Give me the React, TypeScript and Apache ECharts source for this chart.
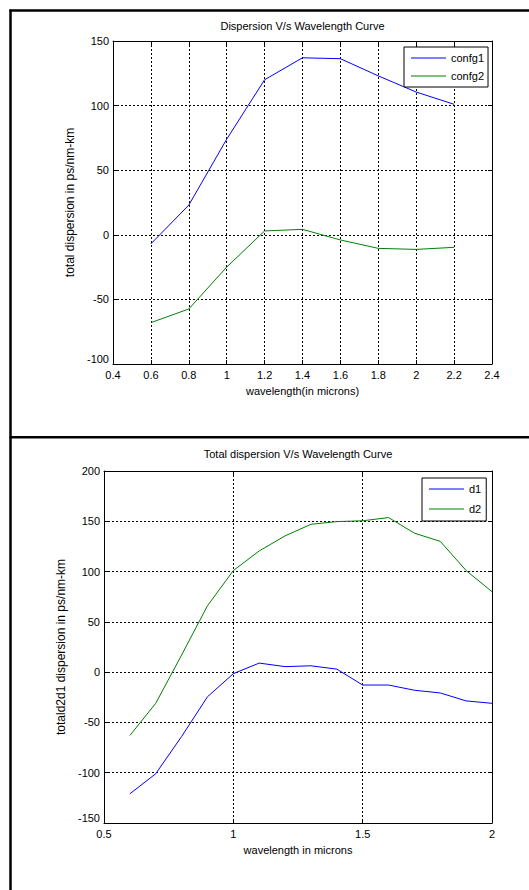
import React, { useEffect, useRef } from "react";
import * as echarts from "echarts";

// ---- Data ----
const TOP_WAVELENGTH = [0.6, 0.8, 1.0, 1.2, 1.4, 1.6, 1.8, 2.0, 2.2];
const CONFG1 = [-7, 23, 74, 120, 137, 136.3, 123, 110.5, 101];
const CONFG2 = [-68, -57.4, -25, 3, 4.2, -4, -10.5, -11.3, -9.7];

const BOTTOM_WAVELENGTH = [0.6, 0.7, 0.8, 0.9, 1.0, 1.1, 1.2, 1.3, 1.4, 1.5, 1.6, 1.7, 1.8, 1.9, 2.0];
const D1 = [-121, -101, -64, -24.5, -1.5, 9, 5.5, 6.3, 3, -12.8, -12.8, -18, -20.7, -28.6, -31];
const D2 = [-63, -31, 17, 66, 101, 120.5, 135.5, 147, 149.7, 150.5, 153.7, 138.2, 130, 101, 80];

const TOP_TITLE = "Dispersion V/s Wavelength Curve";
const TOP_XNAME = "wavelength(in microns)";
const TOP_YNAME = "total dispersion in ps/nm-km";
const BOTTOM_TITLE = "Total dispersion V/s Wavelength Curve";
const BOTTOM_XNAME = "wavelength in microns";
const BOTTOM_YNAME = "totald2d1 dispersion in ps/nm-km";

const FONT = "Liberation Sans, Arial, sans-serif";
const BLUE = "#0000ff";
const GREEN = "#008000";

const pairs = (xs: number[], ys: number[]) => xs.map((x, i) => [x, ys[i]]);

function axes(
  gridIndex: number,
  xmin: number, xmax: number, xint: number,
  ymin: number, ymax: number, yint: number,
  xname: string, yname: string, xGap: number, yGap: number
) {
  const line = { show: true, onZero: false, lineStyle: { color: "#000", width: 1 } };
  const tick = { show: true, inside: true, length: 4, lineStyle: { color: "#000", width: 1 } };
  const grid = { show: true, lineStyle: { color: "#000", width: 1, type: [2, 2] } };
  const x = [
    {
      type: "value", gridIndex, min: xmin, max: xmax, interval: xint, position: "bottom",
      axisLine: line, axisTick: tick, splitLine: grid,
      axisLabel: { color: "#000", fontSize: 11, fontFamily: FONT, margin: 5, showMinLabel: true, showMaxLabel: true },
      name: xname, nameLocation: "middle", nameGap: xGap,
      nameTextStyle: { color: "#000", fontSize: 11, fontFamily: FONT },
    },
    {
      type: "value", gridIndex, min: xmin, max: xmax, interval: xint, position: "top",
      axisLine: line, axisTick: tick, splitLine: { show: false }, axisLabel: { show: false },
    },
  ];
  const y = [
    {
      type: "value", gridIndex, min: ymin, max: ymax, interval: yint, position: "left",
      axisLine: line, axisTick: tick, splitLine: grid,
      axisLabel: {
        color: "#000", fontSize: 11, fontFamily: FONT, margin: 4, showMinLabel: true, showMaxLabel: true,
        formatter: (v: number) => (v === ymin ? `{lo|${v}}` : `${v}`),
        rich: { lo: { fontSize: 11, fontFamily: FONT, color: "#000", padding: [0, 0, 10, 0] } },
      },
      name: yname, nameLocation: "middle", nameGap: yGap,
      nameTextStyle: { color: "#000", fontSize: 12, fontFamily: FONT },
    },
    {
      type: "value", gridIndex, min: ymin, max: ymax, interval: yint, position: "right",
      axisLine: line, axisTick: tick, splitLine: { show: false }, axisLabel: { show: false },
    },
  ];
  return { x, y };
}

export default function App() {
  const ref = useRef<HTMLDivElement>(null);
  useEffect(() => {
    if (!ref.current) return;
    const chart = echarts.init(ref.current, undefined, { renderer: "svg" });
    const a1 = axes(0, 0.4, 2.4, 0.2, -100, 150, 50, TOP_XNAME, TOP_YNAME, 21, 31);
    const a2 = axes(1, 0.5, 2, 0.5, -150, 200, 50, BOTTOM_XNAME, BOTTOM_YNAME, 21, 32);
    const legendBase = {
      orient: "vertical",
      icon: "rect",
      itemWidth: 35,
      itemHeight: 1,
      borderColor: "#000",
      borderWidth: 1,
      backgroundColor: "#fff",
      textStyle: { color: "#000", fontSize: 11, fontFamily: FONT, lineHeight: 12 },
    };
    chart.setOption({
      animation: false,
      backgroundColor: "#fff",
      grid: [
        { left: 113, top: 41, width: 379, height: 323 },
        { left: 104, top: 471, width: 388, height: 352 },
      ],
      xAxis: [...a1.x, ...a2.x],
      yAxis: [...a1.y, ...a2.y],
      legend: [
        { ...legendBase, data: ["confg1", "confg2"], left: 404, top: 47, padding: [5, 4, 5, 7], itemGap: 6 },
        { ...legendBase, data: ["d1", "d2"], left: 422, top: 478, padding: [5, 5, 6, 7], itemGap: 8 },
      ],
      series: [
        { name: "confg1", type: "line", xAxisIndex: 0, yAxisIndex: 0, data: pairs(TOP_WAVELENGTH, CONFG1), symbol: "none", color: BLUE, lineStyle: { width: 1, color: BLUE } },
        { name: "confg2", type: "line", xAxisIndex: 0, yAxisIndex: 0, data: pairs(TOP_WAVELENGTH, CONFG2), symbol: "none", color: GREEN, lineStyle: { width: 1, color: GREEN } },
        { name: "d1", type: "line", xAxisIndex: 2, yAxisIndex: 2, data: pairs(BOTTOM_WAVELENGTH, D1), symbol: "none", color: BLUE, lineStyle: { width: 1, color: BLUE } },
        { name: "d2", type: "line", xAxisIndex: 2, yAxisIndex: 2, data: pairs(BOTTOM_WAVELENGTH, D2), symbol: "none", color: GREEN, lineStyle: { width: 1, color: GREEN } },
      ],
      graphic: [
        { type: "line", shape: { x1: 10.5, y1: 9.5, x2: 10.5, y2: 890 }, style: { stroke: "#000", lineWidth: 2.5 } },
        { type: "line", shape: { x1: 9.5, y1: 10.5, x2: 529, y2: 10.5 }, style: { stroke: "#000", lineWidth: 2.5 } },
        { type: "line", shape: { x1: 9.5, y1: 437.3, x2: 529, y2: 437.3 }, style: { stroke: "#000", lineWidth: 2.5 } },
        { type: "text", x: 302.5, y: 26, style: { text: TOP_TITLE, align: "center", verticalAlign: "middle", font: `11px ${FONT}`, fill: "#000" } },
        { type: "text", x: 298, y: 454, style: { text: BOTTOM_TITLE, align: "center", verticalAlign: "middle", font: `11px ${FONT}`, fill: "#000" } },
      ],
    });
    return () => chart.dispose();
  }, []);
  return (
    <div
      ref={ref}
      style={{ position: "absolute", left: 0, top: 0, width: 529, height: 890, background: "#fff" }}
    />
  );
}
